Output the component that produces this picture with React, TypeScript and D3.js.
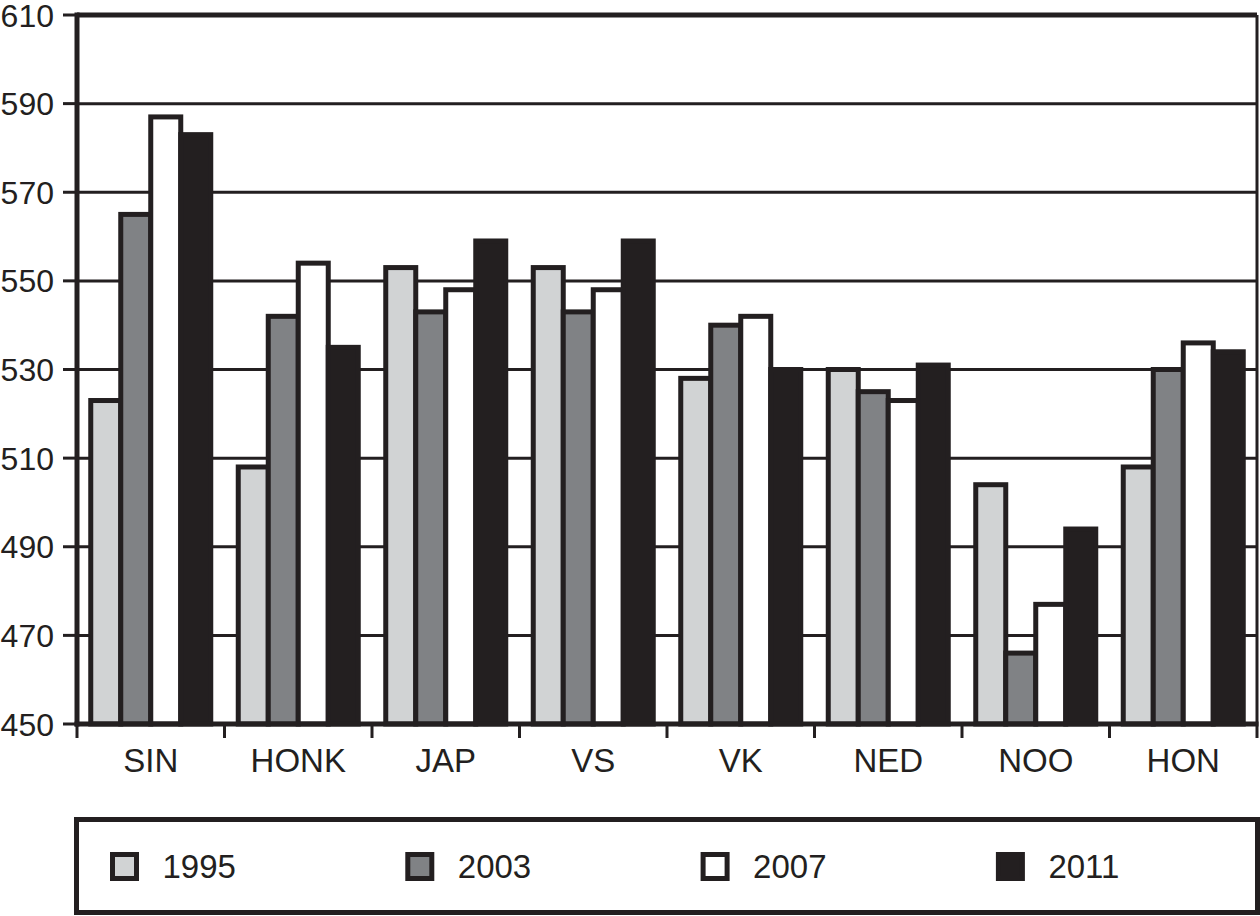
import React from 'react';
import * as d3 from 'd3';

const CATEGORIES = ['SIN', 'HONK', 'JAP', 'VS', 'VK', 'NED', 'NOO', 'HON'];
const YEARS = ['1995', '2003', '2007', '2011'];
const V1995 = [523, 508, 553, 553, 528, 530, 504, 508];
const V2003 = [565, 542, 543, 543, 540, 525, 466, 530];
const V2007 = [587, 554, 548, 548, 542, 523, 477, 536];
const V2011 = [583, 535, 559, 559, 530, 531, 494, 534];
const Y_TICKS = [450, 470, 490, 510, 530, 550, 570, 590, 610];

const SERIES = [V1995, V2003, V2007, V2011];
const FILLS = ['#d1d3d4', '#808285', '#ffffff', '#231f20'];
const INK = '#231f20';
const FONT = '"Liberation Sans", Arial, Helvetica, sans-serif';

export default function App() {
  const left = 77;
  const right = 1257;
  const top = 15;
  const bottom = 724;

  const y = d3.scaleLinear().domain([450, 610]).range([bottom, top]);
  const x0 = d3.scaleBand().domain(CATEGORIES).range([left, right]).padding(0);
  const bw = x0.bandwidth();
  const x1 = d3.scaleBand().domain(YEARS).range([13.75, bw - 13.75]).padding(0);

  // legend positions
  const legendX = d3.scaleLinear().domain([0, 1]).range([112.5, 407.8]);

  return (
    <svg
      width={1260}
      height={916}
      style={{ position: 'absolute', left: 0, top: 0, display: 'block', background: '#fff' }}
    >
      {/* gridlines */}
      {Y_TICKS.filter(t => t !== 450 && t !== 610).map(t => (
        <line key={'g' + t} x1={left} x2={right} y1={y(t)} y2={y(t)} stroke={INK} strokeWidth={3} />
      ))}
      <line x1={left} x2={right} y1={y(610)} y2={y(610)} stroke={INK} strokeWidth={5} />
      <line x1={right} x2={right} y1={top} y2={bottom} stroke={INK} strokeWidth={3} />

      {/* bars */}
      {CATEGORIES.map((c, i) => (
        <g key={c} transform={`translate(${x0(c)},0)`}>
          {YEARS.map((yr, s) => (
            <rect
              key={yr}
              x={x1(yr)}
              y={y(SERIES[s][i])}
              width={x1.bandwidth()}
              height={bottom - y(SERIES[s][i])}
              fill={FILLS[s]}
              stroke={INK}
              strokeWidth={5}
            />
          ))}
        </g>
      ))}

      {/* axes */}
      <line x1={left} x2={left} y1={top - 2.5} y2={bottom + 2.5} stroke={INK} strokeWidth={5} />
      <line x1={left - 2.5} x2={right + 1.5} y1={bottom} y2={bottom} stroke={INK} strokeWidth={5} />
      {Y_TICKS.map(t => (
        <g key={'yt' + t}>
          <line x1={63} x2={left} y1={y(t)} y2={y(t)} stroke={INK} strokeWidth={3} />
          <text
            x={54}
            y={y(t)}
            dy="0.36em"
            textAnchor="end"
            fontFamily={FONT}
            fontSize={32}
            fill={INK}
          >
            {t}
          </text>
        </g>
      ))}
      {[...CATEGORIES.map(c => x0(c) as number), right].map((xv, i) => (
        <line key={'xt' + i} x1={xv} x2={xv} y1={bottom} y2={738} stroke={INK} strokeWidth={3} />
      ))}
      {CATEGORIES.map(c => (
        <text
          key={'xl' + c}
          x={(x0(c) as number) + bw / 2}
          y={772}
          textAnchor="middle"
          fontFamily={FONT}
          fontSize={33}
          fill={INK}
        >
          {c}
        </text>
      ))}

      {/* legend */}
      <rect x={76.5} y={819.5} width={1181} height={93} fill="none" stroke={INK} strokeWidth={5} />
      {YEARS.map((yr, s) => (
        <g key={'lg' + yr} transform={`translate(${legendX(s)},854.5)`}>
          <rect x={0} y={0} width={24} height={24} fill={FILLS[s]} stroke={INK} strokeWidth={5} />
          <text x={50} y={23.5} fontFamily={FONT} fontSize={33} fill={INK}>
            {yr}
          </text>
        </g>
      ))}
    </svg>
  );
}
